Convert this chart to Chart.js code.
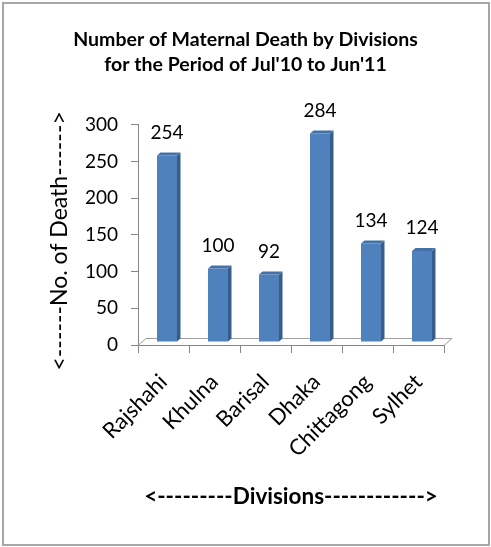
<!DOCTYPE html>
<html>
<head>
<meta charset="utf-8">
<script src="https://cdn.jsdelivr.net/npm/chart.js@4/dist/chart.umd.min.js"></script>
<style>
  html, body { margin: 0; padding: 0; background: #fff; }
  #wrap { width: 491px; height: 547px; position: relative; }
</style>
</head>
<body>
<div id="wrap"><canvas id="c" width="491" height="547"></canvas></div>
<script>
const categories = ["Rajshahi", "Khulna", "Barisal", "Dhaka", "Chittagong", "Sylhet"];
const deaths = [254, 100, 92, 284, 134, 124];
const yTicks = [0, 50, 100, 150, 200, 250, 300];
const titleLines = ["Number of Maternal Death by Divisions", "for the Period of Jul'10 to Jun'11"];
const yTitle = "<------No. of Death------>";
const xTitle = "<---------Divisions------------>";

const FONT = "Lato, 'Open Sans', sans-serif";
const AXIS = "#868686";
const DX = 3.5, DY = 3; // 3D depth offset

const border = {
  id: 'border',
  beforeDraw(chart) {
    const ctx = chart.ctx;
    ctx.save();
    ctx.fillStyle = '#fff';
    ctx.fillRect(0, 0, chart.width, chart.height);
    ctx.strokeStyle = '#a6a6a6';
    ctx.lineWidth = 2;
    ctx.strokeRect(3, 3, 486, 542);
    ctx.restore();
  }
};

const threeD = {
  id: 'threeD',
  beforeDatasetsDraw(chart) {
    const ctx = chart.ctx;
    const a = chart.chartArea;
    ctx.save();
    ctx.strokeStyle = '#a0a0a0';
    ctx.lineWidth = 1;
    ctx.beginPath();
    ctx.moveTo(a.left, a.bottom + 0.5);
    ctx.lineTo(a.left + 8, a.bottom - 6.5);
    ctx.lineTo(a.right + 8, a.bottom - 6.5);
    ctx.lineTo(a.right, a.bottom + 0.5);
    ctx.stroke();
    ctx.restore();
    ctx.save();
    ctx.translate(DX, -DY);
  },
  afterDatasetsDraw(chart) {
    const ctx = chart.ctx;
    const meta = chart.getDatasetMeta(0);
    meta.data.forEach((bar) => {
      const p = bar.getProps(['x', 'y', 'base', 'width'], true);
      const l = p.x - p.width / 2, r = p.x + p.width / 2;
      ctx.fillStyle = '#385d8a';
      ctx.beginPath();
      ctx.moveTo(r, p.y);
      ctx.lineTo(r + DX, p.y - DY);
      ctx.lineTo(r + DX, p.base - DY);
      ctx.lineTo(r, p.base);
      ctx.closePath();
      ctx.fill();
      ctx.fillStyle = '#4472a8';
      ctx.beginPath();
      ctx.moveTo(l, p.y);
      ctx.lineTo(l + DX, p.y - DY);
      ctx.lineTo(r + DX, p.y - DY);
      ctx.lineTo(r, p.y);
      ctx.closePath();
      ctx.fill();
    });
    ctx.restore();
    ctx.save();
    ctx.fillStyle = '#000';
    ctx.font = "19px " + FONT;
    ctx.textAlign = 'center';
    ctx.textBaseline = 'middle';
    meta.data.forEach((bar, i) => {
      ctx.fillText(String(deaths[i]), bar.x + DX, bar.y - 26);
    });
    ctx.restore();
  }
};

// vertical axis title drawn centred on the reference position
const yTitlePlugin = {
  id: 'yTitlePlugin',
  afterDraw(chart) {
    const ctx = chart.ctx;
    const a = chart.chartArea;
    ctx.save();
    ctx.translate(60, (a.top + a.bottom) / 2 + 6);
    ctx.rotate(-Math.PI / 2);
    ctx.fillStyle = '#000';
    ctx.font = "23px " + FONT;
    ctx.textAlign = 'center';
    ctx.textBaseline = 'middle';
    ctx.fillText(yTitle, 0, 0);
    ctx.restore();
  }
};

new Chart(document.getElementById('c'), {
  type: 'bar',
  data: {
    labels: categories,
    datasets: [{
      data: deaths,
      backgroundColor: '#4f81bd',
      borderWidth: 0,
      barPercentage: 0.8,
      categoryPercentage: 0.49
    }]
  },
  options: {
    responsive: false,
    animation: false,
    events: [],
    layout: { padding: 0 },
    plugins: {
      legend: { display: false },
      tooltip: { enabled: false },
      title: {
        display: true,
        text: titleLines,
        color: '#000',
        font: { family: FONT, size: 19.5, weight: 'bold', lineHeight: 1.25 },
        padding: { top: 28, bottom: 48 }
      }
    },
    scales: {
      x: {
        afterFit(s) { s.height = 202; },
        grid: { display: true, drawOnChartArea: false, offset: true, tickLength: 8, color: AXIS },
        border: { display: true, color: AXIS },
        ticks: { color: '#000', font: { family: FONT, size: 22 }, minRotation: 45, maxRotation: 45, padding: 16, autoSkip: false },
        title: { display: true, text: xTitle, color: '#000', font: { family: FONT, size: 22.5, weight: 'bold', lineHeight: 1.2 }, padding: { top: 0, bottom: 36.5 } }
      },
      y: {
        min: 0, max: 300,
        afterFit(s) { s.width = 138; },
        afterBuildTicks(s) { s.ticks = yTicks.map(v => ({ value: v })); },
        grid: { display: true, drawOnChartArea: false, tickLength: 7, color: AXIS },
        border: { display: true, color: AXIS },
        ticks: { color: '#000', font: { family: FONT, size: 19 }, padding: 13 },
        title: { display: false }
      },
      yRight: {
        position: 'right',
        display: true,
        afterFit(s) { s.width = 47; },
        grid: { display: false },
        border: { display: false },
        ticks: { display: false }
      }
    }
  },
  plugins: [border, threeD, yTitlePlugin]
});
</script>
</body>
</html>
